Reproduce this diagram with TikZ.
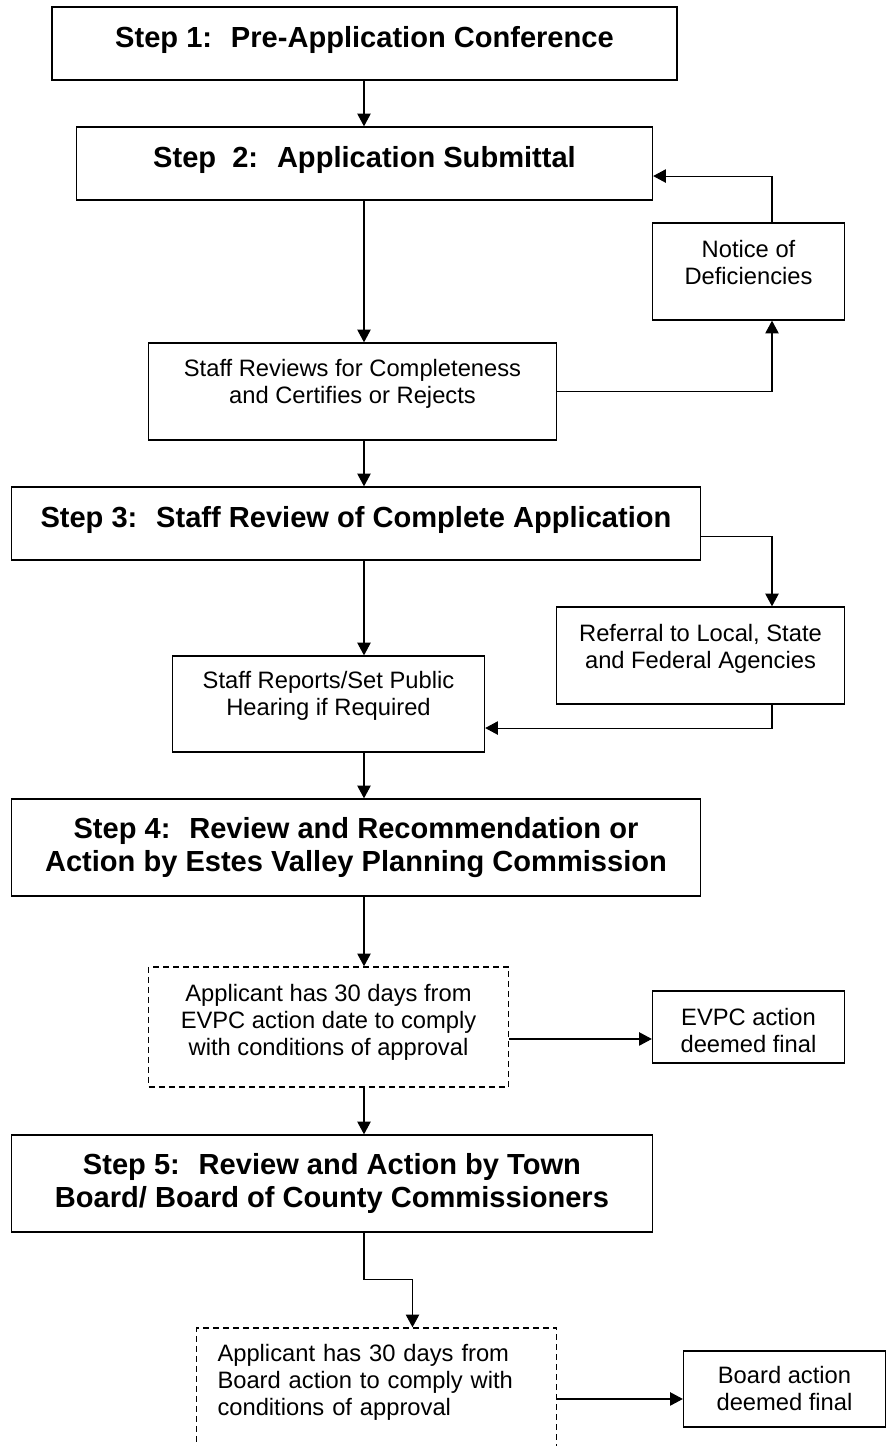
\documentclass[tikz,border=0pt]{standalone}
\usepackage{fontspec}
\setmainfont{Liberation Sans}
\usepackage{tikz}
\usetikzlibrary{arrows.meta,positioning,calc}
\newcommand{\titlefont}{\fontsize{21.8}{24.75}\selectfont\bfseries}
\newcommand{\infofont}{\fontsize{17.8}{20.25}\selectfont}
\tikzset{
  step box/.style={
    draw,
    line width=1pt,
    inner sep=0pt,
    align=center,
    font=\titlefont
  },
  info box/.style={
    draw,
    line width=1pt,
    inner sep=0pt,
    align=center,
    font=\infofont
  },
  wait box/.style={
    info box,
    dash pattern=on 4.5pt off 3pt
  },
  lift/.style={
    text depth=#1
  }
}
\begin{document}
\begin{tikzpicture}[%
        x=0.75pt,
        y=-0.75pt,
        >={Triangle[length=9.5pt,width=10pt]},
        line width=0.8pt,
        on grid]
      \useasboundingbox (0,0) rectangle (887,1446);
      \coordinate (spine) at (364,0);
      \coordinate (rcol)  at (772,0);
      \node[step box, lift=10.1pt, minimum width=468.75pt, minimum height=54.75pt] (step1) at (364.5,43.5)                  {Step 1:~ Pre-Application Conference};
      \node[step box, lift=10.1pt, minimum width=432pt,    minimum height=54.75pt] (step2) [below=90pt of step1]                 {Step~ 2:~ Application Submittal};
      \node[info box, lift=13.5pt, minimum width=144pt,    minimum height=72.75pt] (notice) [below right=81pt and 288pt of step2]  {Notice of\\Deficiencies};
      \node[info box, lift=15.8pt, minimum width=306pt,    minimum height=72.75pt] (review) [below left=171pt and 9pt of step2]    {Staff Reviews for Completeness\\and Certifies or Rejects};
      \node[step box, lift=10.1pt, minimum width=516.75pt, minimum height=54.75pt] (step3) [below right=99pt and 2.6pt of review]  {Step 3:~ Staff Review of Complete Application};
      \node[info box, lift=14.3pt, minimum width=216pt,    minimum height=72.75pt] (referral) [below right=99pt and 258.4pt of step3] {Referral to Local, State\\and Federal Agencies};
      \node[info box, lift=15.8pt, minimum width=234pt,    minimum height=72pt]    (reports) [below left=135.4pt and 20.6pt of step3] {Staff Reports/Set Public\\Hearing if Required};
      \node[step box, minimum width=516.75pt, minimum height=72.75pt] (step4) [below=243pt of step3]                 {Step 4:~ Review and Recommendation or\\Action by Estes Valley Planning Commission};
      \node[wait box, lift=11.3pt, minimum width=270pt,    minimum height=90pt]    (comply1) [below left=134.6pt and 20.6pt of step4] {Applicant has 30 days from\\EVPC action date to comply\\with conditions of approval};
      \node[info box, text height=38pt, minimum width=144pt, minimum height=54pt] (evpc) [right=315pt of comply1]               {EVPC action\\deemed final};
      \node[step box, minimum width=480.75pt, minimum height=72.75pt] (step5) [below right=117.4pt and 2.6pt of comply1] {Step 5:~ Review and Action by Town\\Board/ Board of County Commissioners};
      \node[wait box, lift=54.8pt, align=left, inner xsep=15.75pt, text width=238.5pt, minimum height=91.5pt] (comply2) [below right=154.1pt and 33.4pt of step5] {Applicant has 30 days from\\Board action to comply with\\conditions of approval};
      \node[info box, minimum width=151.5pt,  minimum height=57pt]    (board) [right=306pt of comply2]             {Board action\\deemed final};
      % main column
      \draw[->] (step1.south -| spine)   -- (step2.north -| spine);
      \draw[->] (step2.south -| spine)   -- (review.north -| spine);
      \draw[->] (review.south -| spine)  -- (step3.north -| spine);
      \draw[->] (step3.south -| spine)   -- (reports.north -| spine);
      \draw[->] (reports.south -| spine) -- (step4.north -| spine);
      \draw[->] (step4.south -| spine)   -- (comply1.north -| spine);
      \draw[->] (comply1.south -| spine) -- (step5.north -| spine);
      \draw[->] (step5.south -| spine)   -- ++(0,47) -| ([xshift=27pt]comply2.north);
      % side loops
      \draw[->] (review.east) -| (notice.south -| rcol);
      \draw[->] (notice.north -| rcol) |- ([yshift=-9.4pt]step2.east);
      \draw[->] ([yshift=-9.4pt]step3.east) -| (referral.north -| rcol);
      \draw[->] (referral.south -| rcol) |- ([yshift=-18pt]reports.east);
      \draw[->] ([yshift=-9pt]comply1.east) -- ([yshift=-9pt]comply1.east -| evpc.west);
      \draw[->] ([yshift=-7.5pt]comply2.east) -- ([yshift=-7.5pt]comply2.east -| board.west);
\end{tikzpicture}
\end{document}
